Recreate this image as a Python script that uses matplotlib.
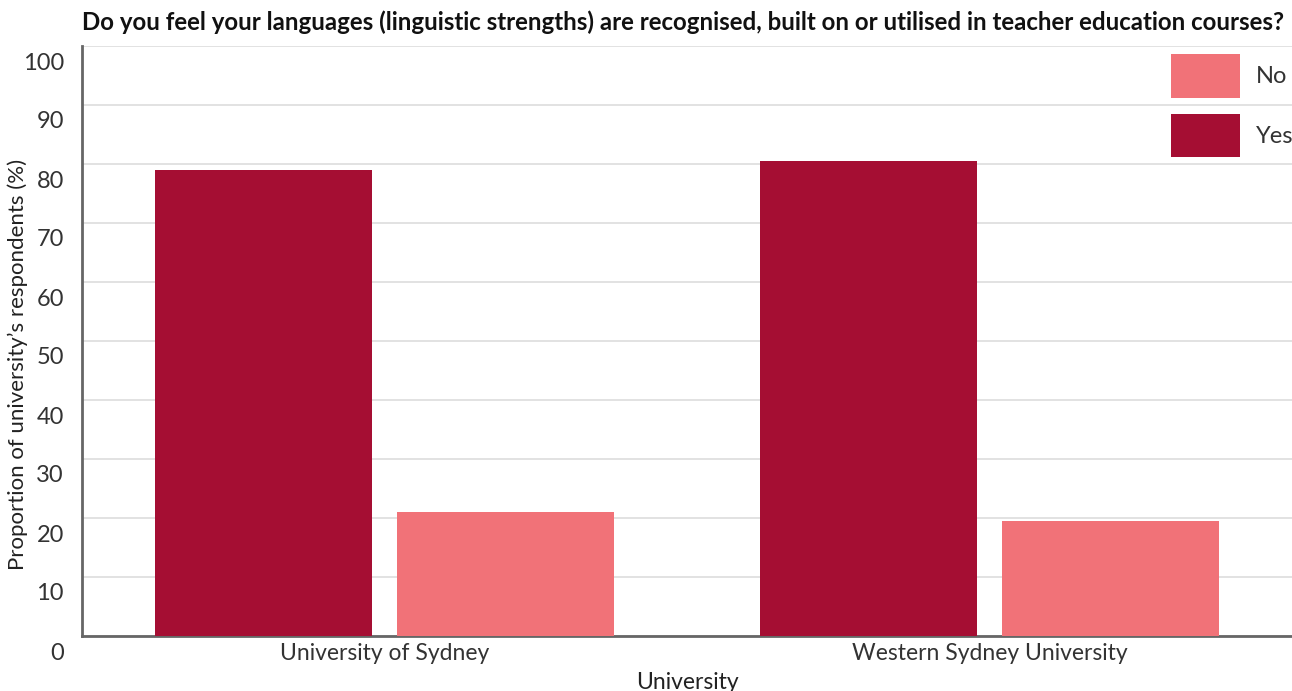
import matplotlib
matplotlib.use("Agg")
import matplotlib.pyplot as plt
import matplotlib.transforms as mtransforms
import numpy as np

universities = ["University of Sydney", "Western Sydney University"]
yes_values = [79.0, 80.5]
no_values = [21.0, 19.5]
series_names = ["Yes", "No"]
yticks = [0, 10, 20, 30, 40, 50, 60, 70, 80, 90, 100]

plt.rcParams['font.family'] = ['Lato', 'DejaVu Sans']

fig = plt.figure(figsize=(12.92, 6.91), dpi=100)
ax = fig.add_axes([82/1292, 55/691, (1292-82)/1292, (636-46)/691])

x = np.arange(len(universities))
w = 0.36
b_yes = ax.bar(x - 0.2, yes_values, w, color="#A50E33", label="Yes", zorder=3)
b_no = ax.bar(x + 0.2, no_values, w, color="#F17278", label="No", zorder=3)

ax.set_xlim(-0.5, 1.5)
ax.set_ylim(0, 100)
ax.set_yticks(yticks)
ax.set_yticklabels([str(t) for t in yticks], fontsize=17, color="#333333")
ax.tick_params(axis='y', length=0, pad=13)
offset = mtransforms.ScaledTranslation(0, -15/100, fig.dpi_scale_trans)
for lab in ax.get_yticklabels():
    lab.set_transform(lab.get_transform() + offset)
ax.set_xticks(x)
ax.set_xticklabels(universities, fontsize=16.5, color="#333333")
ax.tick_params(axis='x', length=0, pad=5)

ax.grid(axis='y', color="#dddddd", linewidth=1.2, zorder=0)
ax.set_axisbelow(True)
for s in ["top", "right"]:
    ax.spines[s].set_visible(False)
for s in ["left", "bottom"]:
    ax.spines[s].set_color("#666666")
    ax.spines[s].set_linewidth(2)

ax.set_xlabel("University", fontsize=16.5, color="#222222", labelpad=6)
ax.set_ylabel("Proportion of university\u2019s respondents (%)", fontsize=16, color="#222222")
ax.yaxis.set_label_coords(-0.045, 0.46)

fig.text(82/1292, 1 - 22/691, "Do you feel your languages (linguistic strengths) are recognised, built on or utilised in teacher education courses?",
         fontsize=17.3, fontweight="bold", color="#111111", va="center", ha="left")

handles = [b_no, b_yes]
leg = ax.legend(handles, ["No", "Yes"], loc="upper right", bbox_to_anchor=(1.0 + 16/1210, 1.0 + 6/590),
                frameon=False, fontsize=17, handlelength=2.95, handleheight=2.45,
                labelspacing=0.7, handletextpad=0.68, borderaxespad=0.2)
for t in leg.get_texts():
    t.set_color("#333333")

fig.savefig("out.png", dpi=100)
